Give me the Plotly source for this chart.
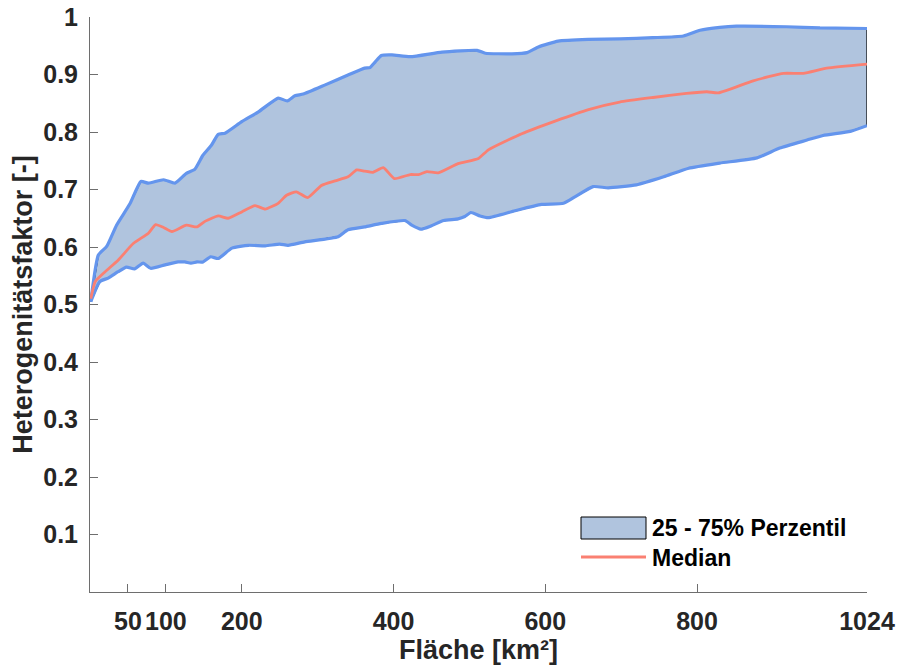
import plotly.graph_objects as go

# ---- data ----
upper_x = [1, 11, 22, 35, 53, 67, 77, 97, 112, 127, 138, 149, 160, 169, 178, 200, 222, 248, 260, 270,
           281, 310, 340, 362, 369, 376, 384, 398, 422, 464, 510, 521, 556, 576, 591, 617, 657, 698,
           742, 782, 804, 830, 852, 918, 962, 1024]
upper_y = [0.505, 0.586, 0.601, 0.638, 0.676, 0.714, 0.711, 0.717, 0.711, 0.728, 0.735, 0.760, 0.777,
           0.796, 0.798, 0.818, 0.835, 0.859, 0.854, 0.863, 0.866, 0.882, 0.899, 0.911, 0.912, 0.922,
           0.933, 0.934, 0.931, 0.939, 0.942, 0.937, 0.936, 0.938, 0.948, 0.958, 0.961, 0.962, 0.964,
           0.967, 0.977, 0.982, 0.984, 0.983, 0.981, 0.980]

median_x = [1, 7, 20, 37, 57, 77, 86.5, 97, 108, 127, 141, 152, 169, 182, 200, 217.5, 231, 248, 259,
            272, 287, 305, 323, 340, 351.5, 362, 373, 386.5, 401, 422, 433, 444, 459, 485, 512, 525,
            569, 613, 657, 698, 742, 786, 813, 828, 874, 914, 940, 971, 1024]
median_y = [0.510, 0.540, 0.557, 0.577, 0.606, 0.624, 0.639, 0.634, 0.627, 0.638, 0.635, 0.645, 0.654,
            0.650, 0.661, 0.672, 0.666, 0.676, 0.690, 0.696, 0.686, 0.707, 0.715, 0.722, 0.734, 0.732,
            0.730, 0.738, 0.719, 0.726, 0.726, 0.731, 0.729, 0.745, 0.754, 0.769, 0.797, 0.819, 0.839,
            0.852, 0.860, 0.867, 0.870, 0.868, 0.889, 0.902, 0.902, 0.911, 0.918]

lower_x = [1, 13, 24, 37, 48, 59, 70, 80, 99, 116, 125, 133, 141, 149, 159, 169, 187, 209, 231, 250,
           261, 283, 327, 340, 362, 384, 415, 424, 436, 450, 466, 485, 494, 502, 514, 525, 560, 595,
           624, 639, 663, 683, 720, 756, 789, 830, 879, 909, 945, 966, 1002, 1024]
lower_y = [0.505, 0.540, 0.546, 0.557, 0.565, 0.562, 0.572, 0.563, 0.569, 0.574, 0.574, 0.572, 0.574,
           0.574, 0.583, 0.580, 0.598, 0.603, 0.602, 0.605, 0.603, 0.609, 0.618, 0.630, 0.635, 0.641,
           0.646, 0.638, 0.631, 0.637, 0.646, 0.649, 0.653, 0.660, 0.654, 0.651, 0.663, 0.674, 0.676,
           0.687, 0.705, 0.703, 0.708, 0.722, 0.737, 0.746, 0.755, 0.772, 0.786, 0.794, 0.801, 0.811]

x_tickvals = [50, 100, 200, 400, 600, 800, 1024]
x_ticktext = ["50", "100", "200", "400", "600", "800", "1024"]
y_tickvals = [0.1, 0.2, 0.3, 0.4, 0.5, 0.6, 0.7, 0.8, 0.9, 1.0]
y_ticktext = ["0.1", "0.2", "0.3", "0.4", "0.5", "0.6", "0.7", "0.8", "0.9", "1"]

label_band = "25 - 75% Perzentil"
label_median = "Median"

# ---- styles ----
FILL = "#B0C4DE"
EDGE = "#6495ED"
MED = "#FA8072"
TXT = "#262626"
AX = "#6e6e6e"
FONT = "Liberation Sans, Arial, sans-serif"
SMOOTH = 0.5

fig = go.Figure()

fig.add_trace(go.Scatter(
    x=upper_x + lower_x[::-1], y=upper_y + lower_y[::-1],
    mode="lines", fill="toself", fillcolor=FILL,
    line=dict(color="black", width=1.2), hoverinfo="skip", showlegend=False))
fig.add_trace(go.Scatter(x=upper_x, y=upper_y, mode="lines",
                         line=dict(color=EDGE, width=3.2, shape="spline", smoothing=SMOOTH),
                         showlegend=False))
fig.add_trace(go.Scatter(x=lower_x, y=lower_y, mode="lines",
                         line=dict(color=EDGE, width=3.2, shape="spline", smoothing=SMOOTH),
                         showlegend=False))
fig.add_trace(go.Scatter(x=median_x, y=median_y, mode="lines",
                         line=dict(color=MED, width=2.8, shape="spline", smoothing=SMOOTH),
                         showlegend=False))

# ---- manual legend (MATLAB style, no box) ----
def py2paper(py):
    return (592 - py) / 575.0

def px2paper(px):
    return (px - 90) / 777.0

fig.add_shape(type="rect", xref="paper", yref="paper",
              x0=px2paper(581), x1=px2paper(646), y0=py2paper(539), y1=py2paper(517),
              fillcolor=FILL, line=dict(color="black", width=1))
fig.add_shape(type="line", xref="paper", yref="paper",
              x0=px2paper(581), x1=px2paper(646), y0=py2paper(557), y1=py2paper(557),
              line=dict(color=MED, width=2.8))
fig.add_annotation(xref="paper", yref="paper", x=px2paper(650), y=py2paper(528),
                   text=label_band, showarrow=False, xanchor="left", yanchor="middle",
                   font=dict(family=FONT, size=23, color="black", weight="bold"))
fig.add_annotation(xref="paper", yref="paper", x=px2paper(650), y=py2paper(558),
                   text=label_median, showarrow=False, xanchor="left", yanchor="middle",
                   font=dict(family=FONT, size=23, color="black", weight="bold"))

axis_common = dict(
    showgrid=False, zeroline=False, showline=True, linecolor=AX, linewidth=1,
    ticks="inside", ticklen=8, tickcolor=AX, tickwidth=1,
    tickfont=dict(family=FONT, size=25, color=TXT, weight="bold"),
    mirror=False,
)

fig.update_xaxes(range=[0, 1024], tickmode="array", tickvals=x_tickvals, ticktext=x_ticktext,
                 ticklabelstandoff=7,
                 title=dict(text="Fläche [km²]", standoff=5,
                            font=dict(family=FONT, size=27, color=TXT, weight="bold")),
                 **axis_common)
fig.update_yaxes(range=[0, 1], tickmode="array", tickvals=y_tickvals, ticktext=y_ticktext,
                 ticklabelstandoff=6,
                 title=dict(text="Heterogenitätsfaktor [-]", standoff=2,
                            font=dict(family=FONT, size=27, color=TXT, weight="bold")),
                 **axis_common)

fig.update_layout(
    width=899, height=671,
    margin=dict(l=90, r=32, t=17, b=79, autoexpand=False),
    paper_bgcolor="white", plot_bgcolor="white",
    showlegend=False,
    font=dict(family=FONT, color=TXT),
)

fig.write_html("out.html")
